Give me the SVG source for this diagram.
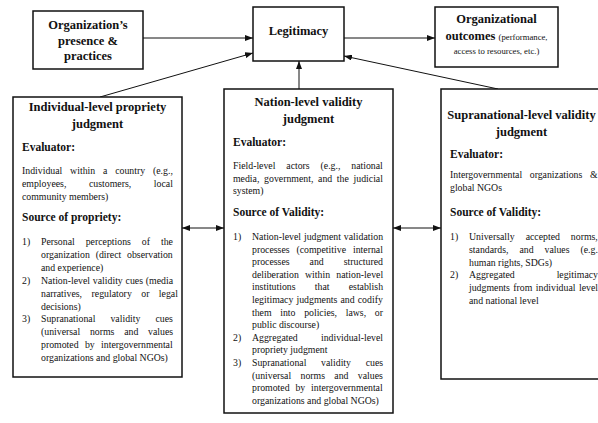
<svg xmlns="http://www.w3.org/2000/svg" width="598" height="423" viewBox="0 0 598 423">
<style>
text{font-family:"Liberation Serif","Times New Roman",serif;fill:#111}
.t{font-size:12.5px;font-weight:bold;text-anchor:middle}
.h{font-size:11.5px;font-weight:bold}
.b{font-size:9.8px}
.s{font-size:8.7px;font-weight:normal}
.box{fill:#fff;stroke:#111;stroke-width:1.5}
.con line{stroke:#111;stroke-width:1}
</style>
<defs>
<marker id="ah" viewBox="0 0 8 6" refX="8" refY="3" markerWidth="8" markerHeight="6" orient="auto-start-reverse" markerUnits="userSpaceOnUse"><path d="M0,0 L8,3 L0,6 z" fill="#111"/></marker>
</defs>
<rect width="598" height="423" fill="#fff"/>

<g id="connectors" class="con">
<line x1="143" y1="38" x2="253" y2="38" marker-end="url(#ah)"/>
<line x1="344" y1="38" x2="435" y2="38" marker-end="url(#ah)"/>
<line x1="100" y1="97" x2="253" y2="53" marker-end="url(#ah)"/>
<line x1="498" y1="89" x2="344" y2="56" marker-end="url(#ah)"/>
<line x1="299" y1="89" x2="299" y2="61" marker-end="url(#ah)"/>
<line x1="182" y1="228" x2="224" y2="228" marker-start="url(#ah)" marker-end="url(#ah)"/>
<line x1="393" y1="228" x2="441" y2="228" marker-start="url(#ah)" marker-end="url(#ah)"/>
</g>

<g id="presence">
<rect class="box" x="33" y="11" width="110" height="58"/>
<text class="t" x="88" y="29">Organization’s</text>
<text class="t" x="88" y="44.5">presence &amp;</text>
<text class="t" x="88" y="60">practices</text>
</g>

<g id="legitimacy">
<rect class="box" x="253" y="7" width="91" height="54"/>
<text class="t" x="298.5" y="34.5">Legitimacy</text>
</g>

<g id="outcomes">
<rect class="box" x="435" y="7" width="123" height="60"/>
<text class="t" x="496.5" y="22.5">Organizational</text>
<text class="t" x="496.5" y="39.5">outcomes <tspan class="s">(performance,</tspan></text>
<text class="b" x="496.5" y="53.5" style="font-size:8.7px;text-anchor:middle">access to resources, etc.)</text>
</g>

<g id="individual">
<rect class="box" x="13" y="97" width="169" height="280"/>
<text class="t" x="97.5" y="111">Individual-level propriety</text>
<text class="t" x="97.5" y="128">judgment</text>
<text class="h" x="22" y="151">Evaluator:</text>
<text class="b" x="22" y="174" word-spacing="5.4">Individual within a country (e.g.,</text>
<text class="b" x="22" y="187" word-spacing="20.2">employees, customers, local</text>
<text class="b" x="22" y="200">community members)</text>
<text class="h" x="22" y="221">Source of propriety:</text>
<text class="b" x="22" y="245">1)</text>
<text class="b" x="41" y="245" word-spacing="8.5">Personal perceptions of the</text>
<text class="b" x="41" y="257.9" word-spacing="3.4">organization (direct observation</text>
<text class="b" x="41" y="270.8">and experience)</text>
<text class="b" x="22" y="283.7">2)</text>
<text class="b" x="41" y="283.7" word-spacing="0.4">Nation-level validity cues (media</text>
<text class="b" x="41" y="296.6" word-spacing="7">narratives, regulatory or legal</text>
<text class="b" x="41" y="309.5">decisions)</text>
<text class="b" x="22" y="322.4">3)</text>
<text class="b" x="41" y="322.4" word-spacing="12.6">Supranational validity cues</text>
<text class="b" x="41" y="335.3" word-spacing="7.3">(universal norms and values</text>
<text class="b" x="41" y="348.2" word-spacing="3.9">promoted by intergovernmental</text>
<text class="b" x="41" y="361.1">organizations and global NGOs)</text>
</g>

<g id="nation">
<rect class="box" x="224" y="89" width="169" height="324"/>
<text class="t" x="308.5" y="106">Nation-level validity</text>
<text class="t" x="308.5" y="123">judgment</text>
<text class="h" x="233" y="146">Evaluator:</text>
<text class="b" x="233" y="169" word-spacing="8.4">Field-level actors (e.g., national</text>
<text class="b" x="233" y="181.5" word-spacing="2.25">media, government, and the judicial</text>
<text class="b" x="233" y="194">system)</text>
<text class="h" x="233" y="216">Source of Validity:</text>
<text class="b" x="233" y="240">1)</text>
<text class="b" x="252" y="240" word-spacing="0.5">Nation-level judgment validation</text>
<text class="b" x="252" y="252.6" word-spacing="4.5">processes (competitive internal</text>
<text class="b" x="252" y="265.2" word-spacing="17.6">processes and structured</text>
<text class="b" x="252" y="277.8" word-spacing="3.8">deliberation within nation-level</text>
<text class="b" x="252" y="290.4" word-spacing="16.8">institutions that establish</text>
<text class="b" x="252" y="303" word-spacing="0.7">legitimacy judgments and codify</text>
<text class="b" x="252" y="315.6" word-spacing="6.2">them into policies, laws, or</text>
<text class="b" x="252" y="328.2">public discourse)</text>
<text class="b" x="233" y="340.8">2)</text>
<text class="b" x="252" y="340.8" word-spacing="20.8">Aggregated individual-level</text>
<text class="b" x="252" y="353.4">propriety judgment</text>
<text class="b" x="233" y="366">3)</text>
<text class="b" x="252" y="366" word-spacing="12.2">Supranational validity cues</text>
<text class="b" x="252" y="378.6" word-spacing="6.9">(universal norms and values</text>
<text class="b" x="252" y="391.2" word-spacing="3.4">promoted by intergovernmental</text>
<text class="b" x="252" y="403.8">organizations and global NGOs)</text>
</g>

<g id="supranational">
<rect class="box" x="441" y="89" width="170" height="290"/>
<text class="t" x="521.5" y="119">Supranational-level validity</text>
<text class="t" x="521.5" y="136">judgment</text>
<text class="h" x="450" y="158">Evaluator:</text>
<text class="b" x="450" y="178" word-spacing="5.1">Intergovernmental organizations &amp;</text>
<text class="b" x="450" y="190.5">global NGOs</text>
<text class="h" x="450" y="216">Source of Validity:</text>
<text class="b" x="450" y="240">1)</text>
<text class="b" x="469" y="240" word-spacing="8.5">Universally accepted norms,</text>
<text class="b" x="469" y="252.8" word-spacing="8.5">standards, and values (e.g.</text>
<text class="b" x="469" y="265.6">human rights, SDGs)</text>
<text class="b" x="450" y="278.4">2)</text>
<text class="b" x="469" y="278.4" word-spacing="39.5">Aggregated legitimacy</text>
<text class="b" x="469" y="291.2" word-spacing="1">judgments from individual level</text>
<text class="b" x="469" y="304">and national level</text>
</g>
</svg>
